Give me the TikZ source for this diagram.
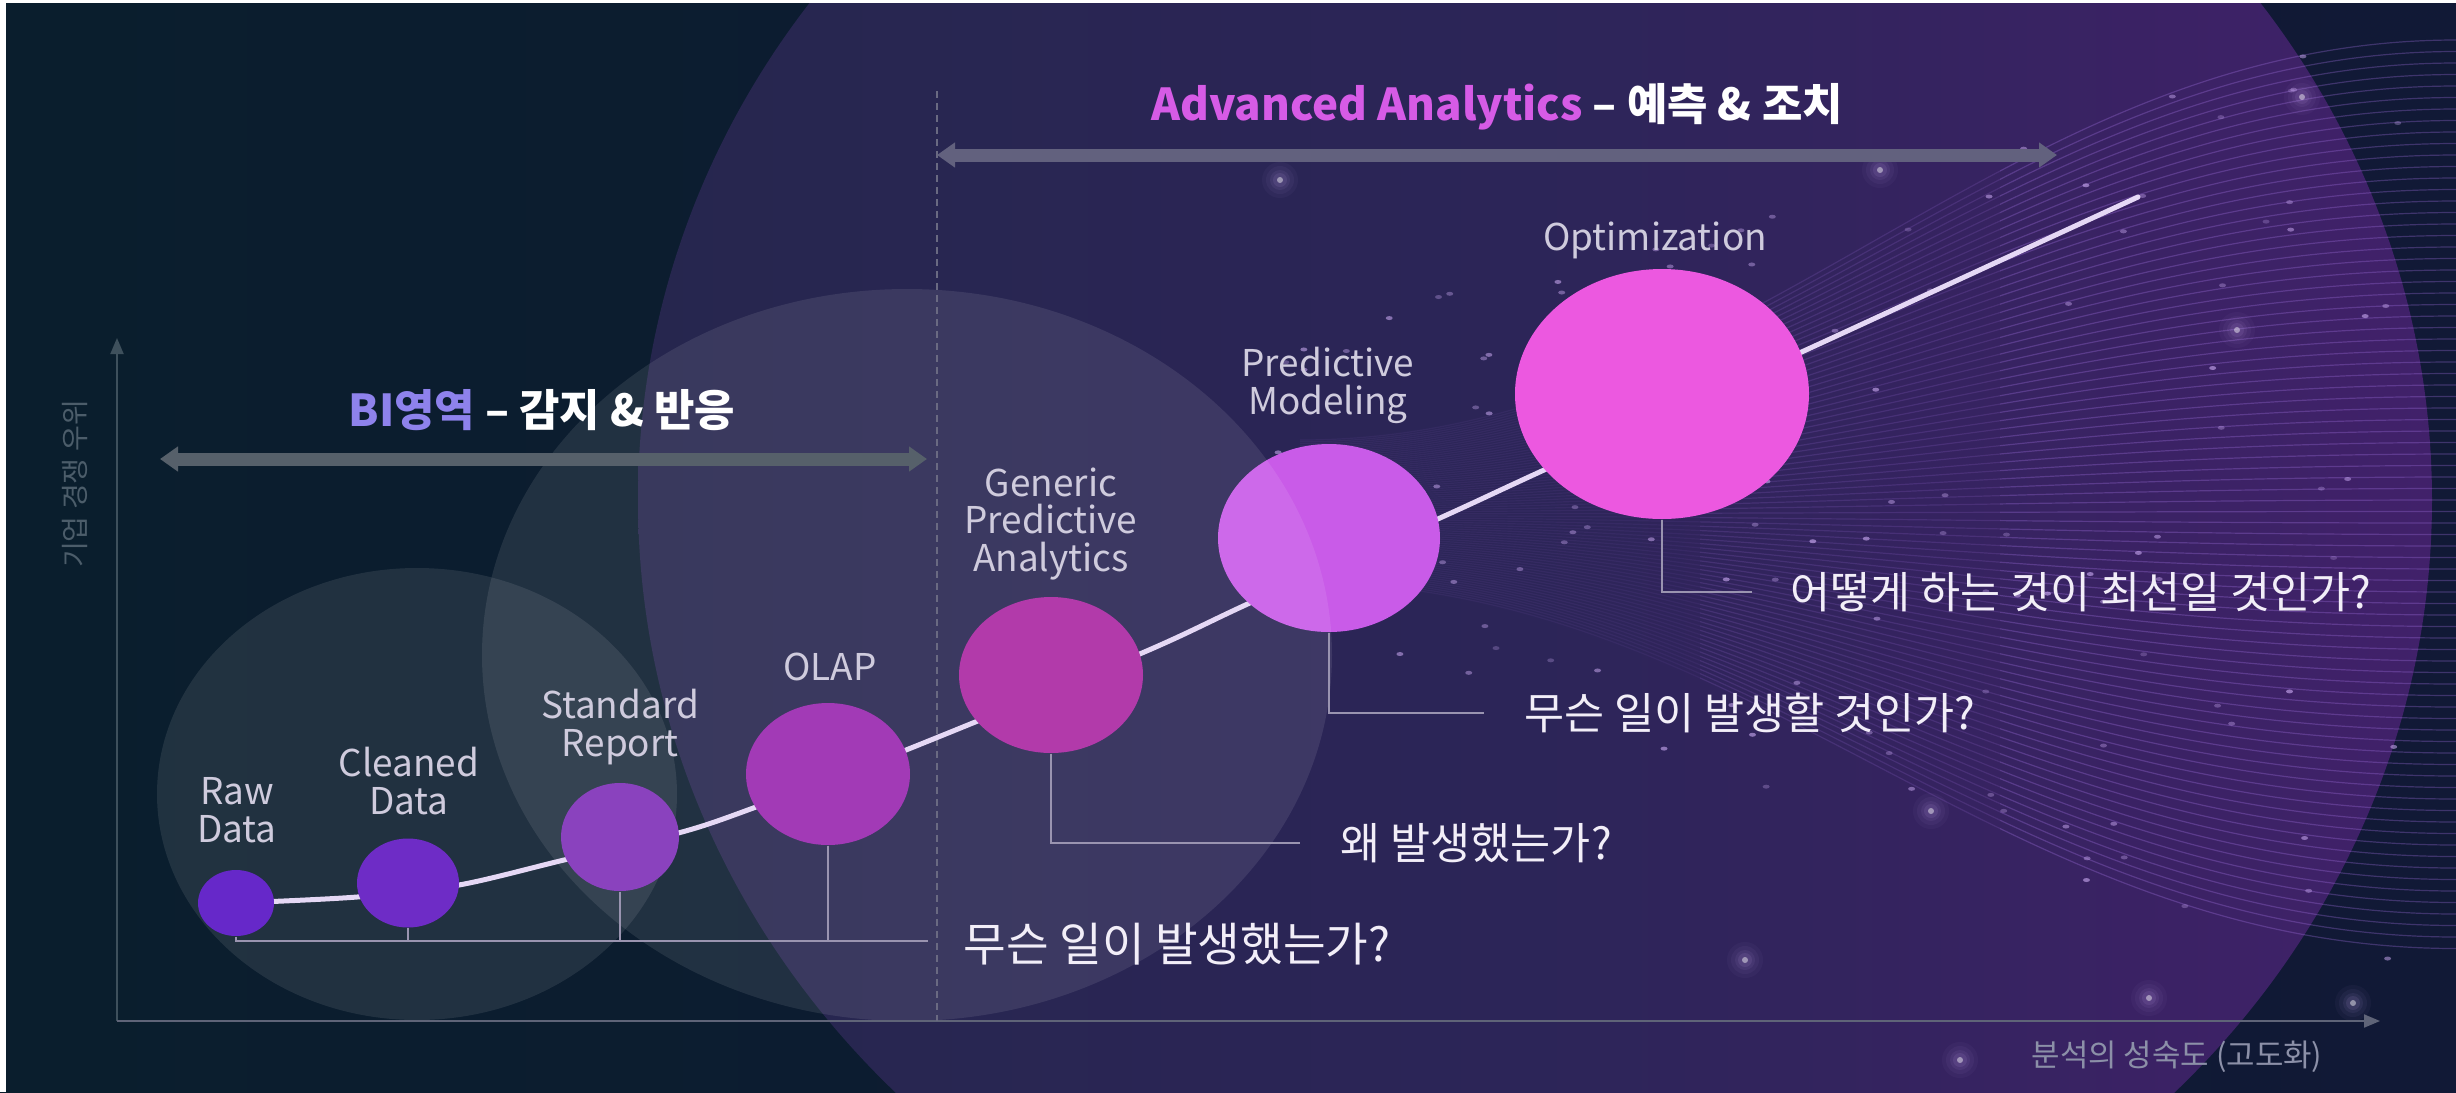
\documentclass[tikz,border=0pt]{standalone}
\usepackage{fontspec}
\setmainfont{Noto Sans CJK KR}
\usetikzlibrary{shapes.geometric, arrows.meta, calc}
\definecolor{bgL}{HTML}{0A1E2D}
\definecolor{bgR}{HTML}{111936}
\definecolor{bigL}{HTML}{26264E}
\definecolor{bigM}{HTML}{2C2558}
\definecolor{bigR}{HTML}{41216A}
\definecolor{fanc}{HTML}{A070E0}
\definecolor{dotc}{HTML}{C8A8F0}
\definecolor{axisY}{HTML}{3E505C}
\definecolor{axisX}{HTML}{5F6478}
\definecolor{ylab}{HTML}{4C5D6A}
\definecolor{xlab}{HTML}{8C90A8}
\definecolor{biarrow}{HTML}{56606A}
\definecolor{advarrow}{HTML}{62617E}
\definecolor{dashc}{HTML}{6A6A82}
\definecolor{bic}{HTML}{8E82EC}
\definecolor{advc}{HTML}{D65BE6}
\definecolor{curvec}{HTML}{E5D8F5}
\definecolor{lblc}{HTML}{CFCBDD}
\definecolor{qc}{HTML}{F2EEF8}
\definecolor{leadc}{HTML}{9A94B0}
\definecolor{rawc}{HTML}{6628C9}
\definecolor{cleanc}{HTML}{6E2CC6}
\definecolor{stdc}{HTML}{8A42BE}
\definecolor{olapc}{HTML}{A23AB6}
\definecolor{genc}{HTML}{B23AAA}
\definecolor{predc}{HTML}{C95BE8}
\definecolor{optc}{HTML}{EC58E0}
\newcommand\fanlines{%
  \foreach \i in {0,...,79}{%
    \pgfmathsetmacro\ya{440+\i*1.8}%
    \pgfmathsetmacro\yb{40+\i*11.5}%
    \draw[fanc, line width=0.12mm] (1300,\ya) .. controls (1750,\ya) and (2000,\yb) .. (2456,\yb);
  }%
}
\begin{document}
\begin{tikzpicture}[x=0.1mm, y=-0.1mm,
  dotnode/.style={ellipse, inner sep=0pt, draw=none},
  lbl/.style={text=lblc, align=center, inner sep=0pt, font=\fontsize{10.5}{10.8}\selectfont},
  qtext/.style={text=qc, anchor=west, inner sep=0pt, font=\fontsize{12.4}{14}\selectfont},
  leader/.style={draw=leadc, line width=0.18mm},
  zonearrow/.style={line width=1.3mm, {Triangle[length=1.8mm,width=2.4mm]}-{Triangle[length=1.8mm,width=2.4mm]}},
  titletext/.style={text=white, inner sep=0pt, font=\fontsize{12.5}{14}\selectfont\bfseries},
  bizone/.style={fill=white, fill opacity=0.09}
]
\useasboundingbox (0,0) rectangle (2456,1092);
\clip (0,0) rectangle (2456,1092);
% background
\shade[left color=bgL, right color=bgR] (0,0) rectangle (2456,1092);
% big advanced circle
\shade[left color=bigL, right color=bigR, middle color=bigM] (1535,500) ellipse [x radius=89.7mm, y radius=84.5mm];
% fan of lines
\begin{scope}
  \clip (1300,0) rectangle (1700,1092);
  \begin{scope}[opacity=0.08]\fanlines\end{scope}
\end{scope}
\begin{scope}
  \clip (1700,0) rectangle (2000,1092);
  \begin{scope}[opacity=0.18]\fanlines\end{scope}
\end{scope}
\begin{scope}
  \clip (2000,0) rectangle (2456,1092);
  \begin{scope}[opacity=0.32]\fanlines\end{scope}
\end{scope}
% scattered dots
\pgfmathsetseed{4242}
\foreach \k in {1,...,130}{%
  \pgfmathsetmacro\tt{rnd}%
  \pgfmathsetmacro\dx{1250+1150*\tt}%
  \pgfmathsetmacro\dy{500+(rnd-0.5)*(300+650*\tt)}%
  \pgfmathsetmacro\op{0.25+0.4*rnd}%
  \fill[dotc, opacity=\op] (\dx,\dy) ellipse [x radius=0.35mm, y radius=0.2mm];
}
% glow spots
\foreach \gx/\gy in {2302/97, 1931/811, 2149/998, 2353/1003, 1880/170, 2237/330, 1280/180, 1960/1060, 1745/960}{%
  \foreach \rr/\oo in {1.8/0.04, 1.4/0.05, 1.0/0.07, 0.7/0.1}{%
    \fill[dotc, opacity=\oo] (\gx,\gy) circle [radius=\rr mm];
  }
  \fill[white, opacity=0.45] (\gx,\gy) circle [radius=0.3mm];
}
% BI zone circles
\path[bizone] (417,794) ellipse [x radius=26mm, y radius=22.6mm];
\path[bizone] (907,655) ellipse [x radius=42.5mm, y radius=36.6mm];
% axes
\coordinate (origin) at (117,1021);
\coordinate (ytop) at (117,338);
\coordinate (xend) at (2380,1021);
\draw[axisY, line width=0.2mm, -{Triangle[length=1.6mm,width=1.3mm]}] (origin) -- (ytop);
\draw[axisX, line width=0.2mm, -{Triangle[length=1.6mm,width=1.3mm]}] (origin) -- (xend);
\node[rotate=90, text=ylab, inner sep=0pt, font=\fontsize{8}{9}\selectfont] (ylabel) at (75,484) {기업 경쟁 우위};
\node[text=xlab, inner sep=0pt, font=\fontsize{8.8}{10}\selectfont] (xlabel) at (2177,1057) {분석의 성숙도 (고도화)};
% dashed divider
\coordinate (dtop) at (937,91);
\coordinate (dbot) at (937,1021);
\draw[dashc, line width=0.15mm, dash pattern=on 0.7mm off 0.5mm] (dtop) -- (dbot);
% zone arrows
\coordinate (biL) at (160,459);
\coordinate (biR) at (927,459);
\draw[zonearrow, draw=biarrow] (biL) -- (biR);
\coordinate (advL) at (937,155);
\coordinate (advR) at (2057,155);
\draw[zonearrow, draw=advarrow] (advL) -- (advR);
\node[titletext] (bititle) at (542,410) {\textcolor{bic}{BI영역} – 감지 \& 반응};
\node[titletext] (advtitle) at (1497,107) {\textcolor{advc}{Advanced Analytics} – 예측 \& 조치};
% growth curve
\coordinate (p0) at (236,903);
\coordinate (p1) at (357,897);
\coordinate (p2) at (459,885);
\coordinate (p3) at (564,860);
\coordinate (p4) at (682,832);
\coordinate (p5) at (756,807);
\coordinate (p6) at (906,750);
\coordinate (p7) at (1142,653);
\coordinate (p8) at (1252,602);
\coordinate (p9) at (1440,518);
\coordinate (p10) at (1544,470);
\coordinate (p11) at (1806,350);
\coordinate (p12) at (2138,197);
\draw[curvec, line width=0.5mm, line cap=round] plot[smooth, tension=0.5] coordinates {(p0) (p1) (p2) (p3) (p4) (p5) (p6) (p7) (p8) (p9) (p10) (p11) (p12)};
% stage dots
\node[dotnode, fill=rawc, minimum width=7.6mm, minimum height=6.6mm] (raw) at (236,903) {};
\node[dotnode, fill=cleanc, minimum width=10.2mm, minimum height=8.9mm] (clean) at (408,883) {};
\node[dotnode, fill=stdc, minimum width=11.8mm, minimum height=10.8mm] (std) at (620,837) {};
\node[dotnode, fill=olapc, minimum width=16.4mm, minimum height=14.2mm] (olap) at (828,774) {};
\node[dotnode, fill=genc, minimum width=18.4mm, minimum height=15.6mm] (gen) at (1051,675) {};
\node[dotnode, fill=predc, minimum width=22.2mm, minimum height=18.8mm] (pred) at (1329,538) {};
\node[dotnode, fill=optc, minimum width=29.4mm, minimum height=25mm] (opt) at (1662,394) {};
\begin{scope}
  \clip (907,655) ellipse [x radius=42.5mm, y radius=36.6mm];
  \fill[white, opacity=0.09] (pred.center) ellipse [x radius=11.1mm, y radius=9.4mm];
\end{scope}
% stage labels
\node[lbl] (rawlbl) at (237,810) {Raw\\Data};
\node[lbl] (cleanlbl) at (409,781) {Cleaned\\Data};
\node[lbl] (stdlbl) at (620,727) {Standard\\Report};
\node[lbl] (olaplbl) at (830,667) {OLAP};
\node[lbl] (genlbl) at (1051,524) {Generic\\Predictive\\Analytics};
\node[lbl] (predlbl) at (1328,385) {Predictive\\Modeling};
\node[lbl] (optlbl) at (1655,240) {Optimization};
% questions
\node[qtext, font=\fontsize{13.2}{15}\selectfont] (q1) at (963,944) {무슨 일이 발생했는가?};
\node[qtext] (q2) at (1340,843) {왜 발생했는가?};
\node[qtext] (q3) at (1524,713) {무슨 일이 발생할 것인가?};
\node[qtext] (q4) at (1790,592) {어떻게 하는 것이 최선일 것인가?};
% leaders
\coordinate (b1) at ($(q1.west)+(-35,-3)$);
\draw[leader, line width=0.25mm] (raw.south) -- (raw.south |- b1) -- (b1);
\draw[leader] (clean.south) -- (clean.south |- b1);
\draw[leader] (std.south) -- (std.south |- b1);
\draw[leader] (olap.south) -- (olap.south |- b1);
\draw[leader] (gen.south) |- ($(q2.west)+(-40,0)$);
\draw[leader] (pred.south) |- ($(q3.west)+(-40,0)$);
\draw[leader] (opt.south) |- ($(q4.west)+(-38,0)$);
% frame edge
\fill[white] (0,0) rectangle (6,1092);
\fill[white] (0,0) rectangle (2456,3);
\end{tikzpicture}
\end{document}
